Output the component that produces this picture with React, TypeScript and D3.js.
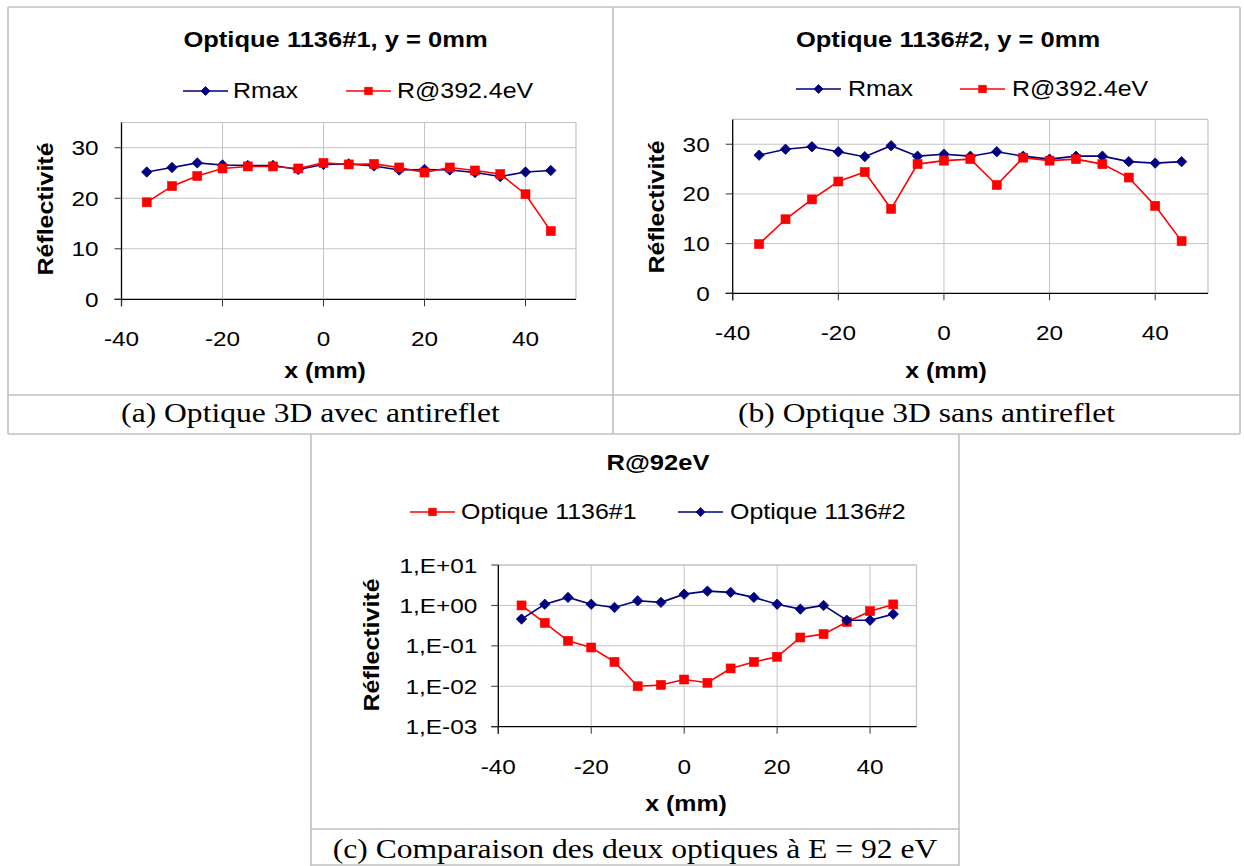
import React from 'react';
import * as d3 from 'd3';

// ---------- data ----------
const X_POS = [-35, -30, -25, -20, -15, -10, -5, 0, 5, 10, 15, 20, 25, 30, 35, 40, 45];
const X_TICKS = [-40, -20, 0, 20, 40];
const X_DOMAIN = [-40, 50];

const A_RMAX = [25.2, 26.1, 27.0, 26.6, 26.5, 26.5, 25.7, 26.7, 26.8, 26.4, 25.6, 25.7, 25.6, 25.1, 24.3, 25.2, 25.5];
const A_R392 = [19.2, 22.4, 24.4, 25.9, 26.3, 26.3, 25.9, 27.0, 26.7, 26.8, 26.1, 25.1, 26.1, 25.5, 24.8, 20.8, 13.5];

const B_RMAX = [27.8, 29.0, 29.5, 28.5, 27.5, 29.7, 27.6, 28.0, 27.6, 28.5, 27.6, 27.0, 27.6, 27.6, 26.5, 26.2, 26.5];
const B_R392 = [9.9, 14.9, 18.9, 22.5, 24.4, 17.0, 26.0, 26.7, 27.0, 21.8, 27.3, 26.7, 27.0, 26.0, 23.3, 17.6, 10.5];

const C_OPT1 = [1.0, 0.37, 0.133, 0.091, 0.040, 0.010, 0.0108, 0.0147, 0.0122, 0.0276, 0.040, 0.0536, 0.161, 0.195, 0.39, 0.72, 1.06];
const C_OPT2 = [0.46, 1.07, 1.58, 1.07, 0.89, 1.30, 1.19, 1.90, 2.26, 2.10, 1.58, 1.07, 0.81, 1.0, 0.43, 0.43, 0.61];

const LIN_Y_TICKS = [0, 10, 20, 30];
const LIN_Y_DOMAIN = [0, 35];
const LOG_Y_TICKS = [1e-3, 1e-2, 1e-1, 1, 10];
const LOG_Y_LABELS = ['1,E-03', '1,E-02', '1,E-01', '1,E+00', '1,E+01'];

const TITLE_A = 'Optique 1136#1, y = 0mm';
const TITLE_B = 'Optique 1136#2, y = 0mm';
const TITLE_C = 'R@92eV';
const CAP_A = '(a) Optique 3D avec antireflet';
const CAP_B = '(b) Optique 3D sans antireflet';
const CAP_C = '(c) Comparaison des deux optiques à E = 92 eV';
const NAME_RMAX = 'Rmax';
const NAME_R392 = 'R@392.4eV';
const NAME_OPT1 = 'Optique 1136#1';
const NAME_OPT2 = 'Optique 1136#2';
const Y_LABEL = 'Réflectivité';
const X_LABEL = 'x (mm)';

// ---------- styles ----------
const NAVY = '#000080';
const RED = '#ff0000';
const GRID = '#c4c4c4';
const BORDER = '#c0c0c0';
const SANS = '"Liberation Sans", Arial, sans-serif';
const SERIF = '"Liberation Serif", "Times New Roman", serif';
const SX = 1.16;

type TProps = {
  x: number; y: number; size: number; bold?: boolean; anchor?: string;
  family?: string; rotate?: boolean; sx?: number; children: React.ReactNode; dy?: string;
};
function T({ x, y, size, bold, anchor = 'start', family = SANS, rotate, sx = SX, children, dy }: TProps) {
  const tr = `translate(${x},${y})` + (rotate ? ' rotate(-90)' : '') + ` scale(${sx},1)`;
  return (
    <text transform={tr} fontSize={size} fontWeight={bold ? 'bold' : 'normal'}
      textAnchor={anchor} fontFamily={family} fill="#000" dy={dy}>
      {children}
    </text>
  );
}

type Marker = 'diamond' | 'square';
function MarkerShape({ kind, cx, cy, color, r }: { kind: Marker; cx: number; cy: number; color: string; r: number }) {
  if (kind === 'diamond') {
    return <path d={`M${cx},${cy - r}L${cx + r},${cy}L${cx},${cy + r}L${cx - r},${cy}Z`} fill={color} stroke={color} strokeWidth={0.8} />;
  }
  return <rect x={cx - r} y={cy - r} width={2 * r} height={2 * r} fill={color} stroke={color} strokeWidth={0.6} />;
}

type Series = { name: string; values: number[]; color: string; marker: Marker };
type LegendItem = { series: Series; lineX: number; textX: number };

type PanelProps = {
  xRange: [number, number];
  yRange: [number, number];
  log?: boolean;
  series: Series[];
  title: string; titleX: number; titleY: number;
  legend: LegendItem[]; legendY: number;
  yLabelX: number; yLabelY: number;
  xLabelX: number; xLabelY: number;
  yTickGap: number;
};

function Panel(p: PanelProps) {
  const x = d3.scaleLinear().domain(X_DOMAIN).range(p.xRange);
  const y: any = p.log
    ? d3.scaleLog().domain([LOG_Y_TICKS[0], LOG_Y_TICKS[LOG_Y_TICKS.length - 1]]).range(p.yRange)
    : d3.scaleLinear().domain(LIN_Y_DOMAIN).range(p.yRange);
  const yTicks = p.log ? LOG_Y_TICKS : LIN_Y_TICKS;
  const yLabels = p.log ? LOG_Y_LABELS : LIN_Y_TICKS.map(String);
  const [x0, x1] = p.xRange;
  const [yb, yt] = p.yRange;
  const line = d3.line<number>().x((_, i) => x(X_POS[i])).y((v) => y(v));
  const TICK = 7;
  return (
    <g>
      {/* title */}
      <T x={p.titleX} y={p.titleY} size={22} bold anchor="middle">{p.title}</T>
      {/* legend */}
      {p.legend.map((l, i) => (
        <g key={i}>
          <line x1={l.lineX} x2={l.lineX + 45} y1={p.legendY} y2={p.legendY} stroke={l.series.color} strokeWidth={1.5} />
          <MarkerShape kind={l.series.marker} cx={l.lineX + 22.5} cy={p.legendY} color={l.series.color} r={l.series.marker === 'diamond' ? 4.5 : 3.8} />
          <T x={l.textX} y={p.legendY + 6.5} size={21.5}>{l.series.name}</T>
        </g>
      ))}
      {/* grid */}
      {X_TICKS.filter((t) => t !== X_DOMAIN[0]).map((t) => (
        <line key={'vx' + t} x1={x(t)} x2={x(t)} y1={yt} y2={yb} stroke={GRID} strokeWidth={1} />
      ))}
      {yTicks.slice(1).map((t) => (
        <line key={'hy' + t} x1={x0} x2={x1} y1={y(t)} y2={y(t)} stroke={GRID} strokeWidth={1} />
      ))}
      <line x1={x0} x2={x1} y1={yt} y2={yt} stroke={GRID} strokeWidth={1.2} />
      <line x1={x1} x2={x1} y1={yt} y2={yb} stroke={GRID} strokeWidth={1.2} />
      {/* axes */}
      <line x1={x0} x2={x0} y1={yt} y2={yb + TICK} stroke="#000" strokeWidth={1.3} />
      <line x1={x0 - TICK} x2={x1} y1={yb} y2={yb} stroke="#000" strokeWidth={1.3} />
      {yTicks.map((t, i) => (
        <g key={'yt' + t}>
          <line x1={x0 - TICK} x2={x0} y1={y(t)} y2={y(t)} stroke="#333" strokeWidth={1} />
          <T x={x0 - p.yTickGap} y={y(t) + 7.5} size={21} anchor="end">{yLabels[i]}</T>
        </g>
      ))}
      {X_TICKS.map((t) => (
        <g key={'xt' + t}>
          <line x1={x(t)} x2={x(t)} y1={yb} y2={yb + TICK} stroke="#333" strokeWidth={1} />
          <T x={x(t)} y={yb + 47} size={21} anchor="middle">{String(t)}</T>
        </g>
      ))}
      {/* axis titles */}
      <T x={p.yLabelX} y={p.yLabelY} size={21.5} bold anchor="middle" rotate dy="0.36em">{Y_LABEL}</T>
      <T x={p.xLabelX} y={p.xLabelY} size={21.5} bold anchor="middle">{X_LABEL}</T>
      {/* series */}
      {p.series.map((s) => (
        <g key={s.name}>
          <path d={line(s.values) || ''} fill="none" stroke={s.color} strokeWidth={1.6} />
          {s.values.map((v, i) => (
            <MarkerShape key={i} kind={s.marker} cx={x(X_POS[i])} cy={y(v)} color={s.color} r={s.marker === 'diamond' ? 5.2 : 4.5} />
          ))}
        </g>
      ))}
    </g>
  );
}

export default function App() {
  const aRmax: Series = { name: NAME_RMAX, values: A_RMAX, color: NAVY, marker: 'diamond' };
  const aR392: Series = { name: NAME_R392, values: A_R392, color: RED, marker: 'square' };
  const bRmax: Series = { name: NAME_RMAX, values: B_RMAX, color: NAVY, marker: 'diamond' };
  const bR392: Series = { name: NAME_R392, values: B_R392, color: RED, marker: 'square' };
  const cOpt1: Series = { name: NAME_OPT1, values: C_OPT1, color: RED, marker: 'square' };
  const cOpt2: Series = { name: NAME_OPT2, values: C_OPT2, color: NAVY, marker: 'diamond' };
  const bw = 1.6;
  return (
    <svg width={1244} height={866} style={{ position: 'absolute', left: 0, top: 0, background: '#fff' }}>
      <rect x={0} y={0} width={1244} height={866} fill="#fff" />
      {/* table borders */}
      <g stroke={BORDER} strokeWidth={bw}>
        <line x1={8} x2={1240} y1={7} y2={7} />
        <line x1={8} x2={1240} y1={395} y2={395} />
        <line x1={8} x2={1240} y1={434} y2={434} />
        <line x1={8} x2={8} y1={7} y2={434} />
        <line x1={613} x2={613} y1={7} y2={434} />
        <line x1={1240} x2={1240} y1={7} y2={434} />
        <line x1={311} x2={311} y1={434} y2={866} />
        <line x1={959} x2={959} y1={434} y2={866} />
        <line x1={311} x2={959} y1={829} y2={829} />
        <line x1={311} x2={959} y1={865} y2={865} />
      </g>
      <Panel
        xRange={[121.5, 576]} yRange={[299.3, 122.5]}
        series={[aRmax, aR392]}
        title={TITLE_A} titleX={335.5} titleY={47}
        legend={[{ series: aRmax, lineX: 183, textX: 233 }, { series: aR392, lineX: 346, textX: 397 }]}
        legendY={91}
        yLabelX={45} yLabelY={209} xLabelX={325} xLabelY={378} yTickGap={23}
      />
      <Panel
        xRange={[732.7, 1208]} yRange={[293.3, 119.4]}
        series={[bRmax, bR392]}
        title={TITLE_B} titleX={948} titleY={47}
        legend={[{ series: bRmax, lineX: 796, textX: 848 }, { series: bR392, lineX: 960, textX: 1012 }]}
        legendY={89}
        yLabelX={656} yLabelY={207} xLabelX={946} xLabelY={378} yTickGap={23}
      />
      <Panel
        log
        xRange={[498.3, 916.5]} yRange={[726.7, 565]}
        series={[cOpt1, cOpt2]}
        title={TITLE_C} titleX={658} titleY={470}
        legend={[{ series: cOpt1, lineX: 410, textX: 461 }, { series: cOpt2, lineX: 678, textX: 730 }]}
        legendY={512}
        yLabelX={371} yLabelY={645} xLabelX={686} xLabelY={811} yTickGap={21}
      />
      {/* captions */}
      <T x={310.5} y={422} size={27} family={SERIF} anchor="middle" sx={1.17}>{CAP_A}</T>
      <T x={926.5} y={422} size={27} family={SERIF} anchor="middle" sx={1.17}>{CAP_B}</T>
      <T x={635} y={858} size={27} family={SERIF} anchor="middle" sx={1.17}>{CAP_C}</T>
    </svg>
  );
}
